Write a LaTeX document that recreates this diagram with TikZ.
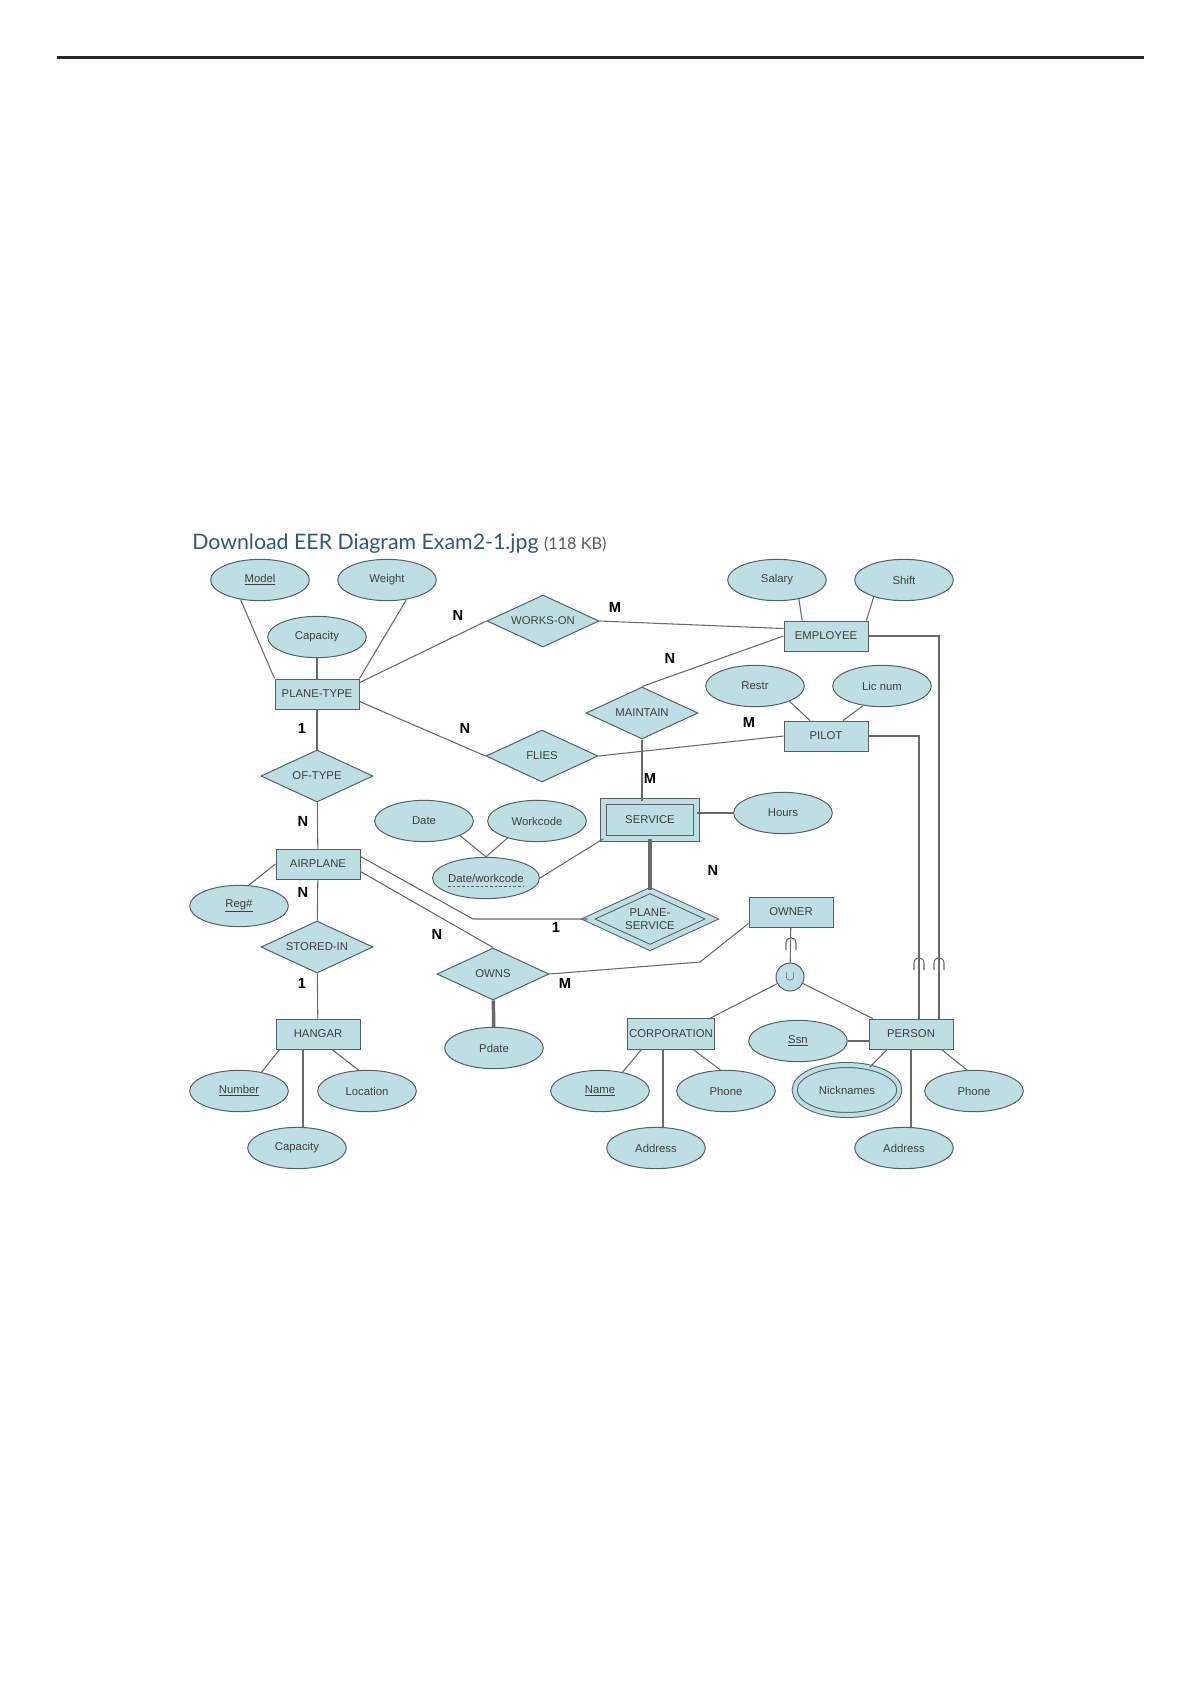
\documentclass[tikz,border=0pt]{standalone}
\usepackage{fontspec}
\usetikzlibrary{shapes.geometric,calc}
\newfontfamily\erfont{Liberation Sans}
\newfontfamily\latofont{Lato}
\definecolor{erfill}{RGB}{189,222,226}
\definecolor{erdraw}{RGB}{85,98,98}
\definecolor{erline}{RGB}{105,105,105}
\definecolor{dlblue}{RGB}{47,88,128}
\definecolor{dlgray}{RGB}{90,90,90}
\newcommand{\keyattr}[1]{\underline{#1}}
\tikzset{
  subsetmark/.pic={\draw [erline,line width=0.8pt] (-5,-6) -- (-5,1) .. controls (-5,8) and (5,8) .. (5,1) -- (5,-6);}
}

\begin{document}
\begin{tikzpicture}[x=0.75pt,y=0.75pt,yscale=-1,xscale=1,
  erbase/.style={draw=erdraw,fill=erfill,line width=0.75pt,inner sep=0pt,text=black!75,font=\erfont\fontsize{8.5}{10}\selectfont},
  entity/.style={erbase,rectangle,minimum width=63pt,minimum height=22.5pt},
  relation/.style={erbase,diamond,aspect=2,minimum width=84pt,minimum height=39pt},
  attr/.style={erbase,ellipse,minimum width=74pt,minimum height=31pt},
  card/.style={inner sep=0pt,font=\erfont\bfseries\fontsize{11}{12}\selectfont},
  conn/.style={draw=erline,line width=0.8pt},
  thickconn/.style={conn,line width=2.6pt}]
\useasboundingbox (0,0) rectangle (1200,1700);
%Straight Lines
\draw [line width=2.3pt,black!85] (57,57.5) -- (1144,57.5);
% Text Node
\draw (192,549) node (dltitle) [anchor=base west,inner sep=0pt] {\latofont\fontsize{16}{19}\selectfont\color{dlblue}Download EER Diagram Exam2-1.jpg \color{dlgray}\fontsize{12.2}{14}\selectfont(118 KB)};

%Shape: Rectangle
\draw (317,694) node (ptype) [entity] {PLANE-TYPE};
\draw (826,636) node (emp) [entity] {EMPLOYEE};
\draw (826,736) node (pilot) [entity] {PILOT};
\draw (318,864) node (airplane) [entity] {AIRPLANE};
\draw (318,1034) node (hangar) [entity] {HANGAR};
\draw (791,912) node (owner) [entity] {OWNER};
\draw (671,1034) node (corp) [entity,minimum width=65pt,minimum height=23pt] {CORPORATION};
\draw (911,1034) node (person) [entity] {PERSON};
\draw (650,820) node (service) [entity,double=erfill,double distance=4pt,minimum width=69.5pt,minimum height=27.5pt] {SERVICE};

%Shape: Diamond
\draw (543,621) node (workson) [relation] {WORKS-ON};
\draw (542,756) node (flies) [relation] {FLIES};
\draw (642,713) node (maintain) [relation] {MAINTAIN};
\draw (317,776) node (oftype) [relation] {OF-TYPE};
\draw (317,947) node (storedin) [relation] {STORED-IN};
\draw (493,974) node (owns) [relation] {OWNS};
\draw (650,919) node (planeserv) [relation,align=center,double=erfill,double distance=3.5pt,minimum width=93pt,minimum height=43pt] {PLANE-\\SERVICE};

%Shape: Ellipse
\draw (260,580) node (model) [attr] {\keyattr{Model}};
\draw (387,580) node (weight) [attr] {Weight};
\draw (317,637) node (ptcap) [attr] {Capacity};
\draw (777,580) node (salary) [attr] {Salary};
\draw (904,580) node (shift) [attr] {Shift};
\draw (755,686) node (restr) [attr] {Restr};
\draw (882,686) node (licnum) [attr] {Lic num};
\draw (783,813) node (hours) [attr] {Hours};
\draw (424,821) node (date) [attr] {Date};
\draw (537,821) node (workcode) [attr] {Workcode};
\draw (486,878) node (datework) [attr] {Date/workcode};
\draw [dashed,erdraw,line width=0.6pt,dash pattern=on 2pt off 1.5pt] ($(datework)+(-38,8)$) -- ($(datework)+(37,8)$);
\draw (239,906) node (regno) [attr] {\keyattr{Reg\#}};
\draw (494,1048) node (pdate) [attr] {Pdate};
\draw (239,1091) node (number) [attr] {\keyattr{Number}};
\draw (367,1091) node (location) [attr] {Location};
\draw (297,1148) node (hgcap) [attr] {Capacity};
\draw (600,1091) node (cname) [attr] {\keyattr{Name}};
\draw (726,1091) node (cphone) [attr] {Phone};
\draw (656,1148) node (caddr) [attr] {Address};
\draw (798,1041) node (ssn) [attr] {\keyattr{Ssn}};
\draw (847,1090) node (nick) [attr,double=erfill,double distance=3pt,minimum width=78.5pt,minimum height=37.5pt] {Nicknames};
\draw (974,1091) node (pphone) [attr] {Phone};
\draw (904,1148) node (paddr) [attr] {Address};

%Shape: Circle
\draw (790,977) node (un) [erbase,circle,minimum size=21pt,font=\fontsize{10}{10}\selectfont] {$\cup$};

%Straight Lines
\draw [conn] (model.225) -- (ptype.north west);
\draw [conn] (weight.315) -- (ptype.north east);
\draw [conn] (ptcap) -- (ptype);
\draw [conn] (ptype.15) -- (workson.west);
\draw [conn] (ptype.-10) -- (flies.west);
\draw [conn] (workson.east) -- (emp.170);
\draw [conn] (emp.west) -- (maintain.north);
\draw [conn] (flies.east) -- (pilot.west);
\draw [conn] (salary.-41) -- (emp.147);
\draw [conn] (shift.209) -- (emp.21);
\draw [conn] (restr.-24) -- (pilot.136);
\draw [conn] (licnum.226) -- (pilot.42);
\draw [conn] (maintain.south) -- (maintain.south |- service.north);
\draw [conn] (service.east |- hours.west) -- (hours.west);
\draw [thickconn] (service.south) -- (planeserv.north);
\draw [conn] (datework.east) -- (service.south west);
\draw [conn] (date.-22) -- (datework.north);
\draw [conn] (workcode.210) -- (datework.north);
\draw [conn] (ptype) -- (oftype);
\draw [conn] (oftype) -- (airplane);
\draw [conn] (airplane.west) -- (regno.65);
\draw [conn] (airplane) -- (storedin);
\draw [conn] (storedin) -- (hangar);
\coordinate (psbend) at (473,919);
\draw [conn] (airplane.10) -- (psbend) -- (planeserv.west);
\draw [conn] (airplane.-10) -- (owns.north);
\coordinate (ownbend) at (700,962);
\draw [conn] (owns.east) -- (ownbend) -- (owner.195);
\draw [thickconn] (owns) -- (pdate);
\draw [conn] (owner) -- (un);
\draw [conn] (un) -- (corp.22);
\draw [conn] (un) -- (person.158);
\draw [conn] (ssn.east) -- (ssn.east -| person.west);
\draw [conn] (emp.east) -| ($(person.north)+(28,0)$);
\draw [conn] (pilot.east) -| ($(person.north)+(8,0)$);
\draw [conn] (hangar.202) -- (number.40);
\draw [conn] (hangar.-48) -- (location.112);
\coordinate (hgfoot) at ($(hangar.south)+(-15,0)$);
\draw [conn] (hgfoot) -- (hgfoot |- hgcap.north);
\draw [conn] (corp.208) -- (cname.40);
\draw [conn] (corp.-35) -- (cphone.105);
\coordinate (corpfoot) at ($(corp.south)+(-8,0)$);
\draw [conn] (corpfoot) -- (corpfoot |- caddr.north);
\draw [conn] (person.213) -- (nick.45);
\draw [conn] (person.south) -- (person.south |- paddr.north);
\draw [conn] (person.-27) -- (pphone.108);

%Shape: Subset
\pic at (791,944) {subsetmark};
\pic at (919,964) {subsetmark};
\pic at (939,964) {subsetmark};

% Text Node
\draw (458,615) node (cardWoN) [card] {N};
\draw (615,607) node (cardWoM) [card] {M};
\draw (670,658) node (cardMaN) [card] {N};
\draw (302,728) node (cardPt1) [card] {1};
\draw (465,728) node (cardFlN) [card] {N};
\draw (749,722) node (cardFlM) [card] {M};
\draw (650,778) node (cardMaM) [card] {M};
\draw (303,821) node (cardOtN) [card] {N};
\draw (303,892) node (cardSiN) [card] {N};
\draw (713,870) node (cardPsN) [card] {N};
\draw (556,927) node (cardPs1) [card] {1};
\draw (437,934) node (cardOwN) [card] {N};
\draw (565,983) node (cardOwM) [card] {M};
\draw (302,983) node (cardSi1) [card] {1};
\end{tikzpicture}
\end{document}
